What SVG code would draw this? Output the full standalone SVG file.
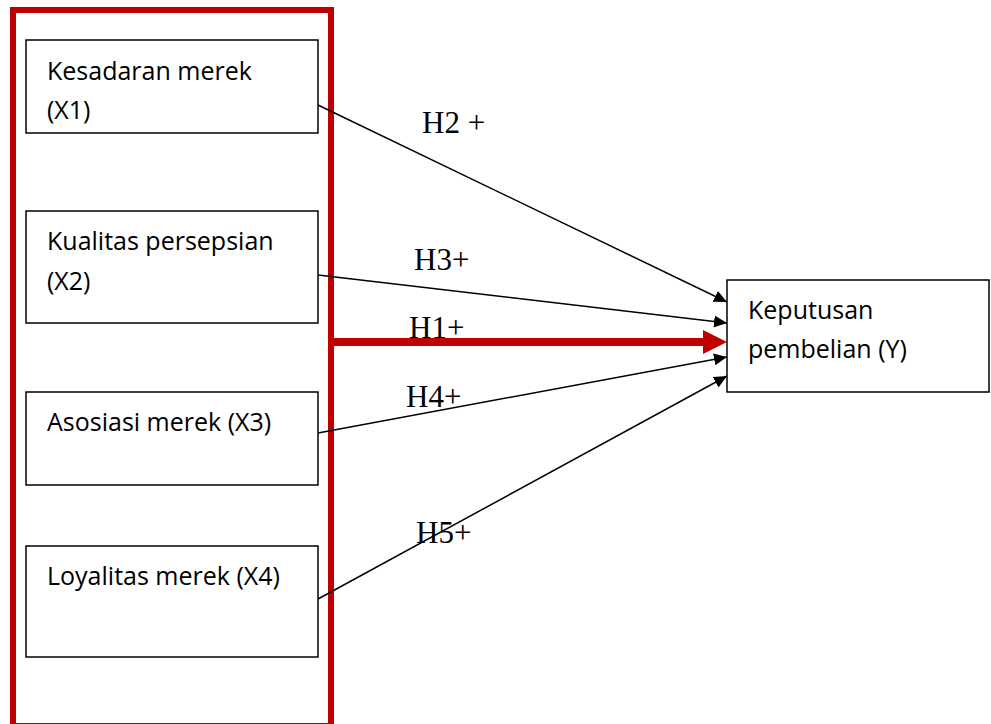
<svg xmlns="http://www.w3.org/2000/svg" width="991" height="724" viewBox="0 0 991 724">
<defs>
<style>
.box{fill:#fff;stroke:#000;stroke-width:1.5}
.lbl{font-family:"Open Sans","Noto Sans",sans-serif;font-size:25px;fill:#000}
.h{font-family:"Liberation Serif","Times New Roman",serif;font-size:31px;fill:#000}
.con{stroke:#000;stroke-width:1.5;fill:none;marker-end:url(#ah)}
</style>
<marker id="ah" markerUnits="userSpaceOnUse" markerWidth="13" markerHeight="12" refX="13" refY="6" orient="auto" viewBox="0 0 13 12">
<path d="M0,0 L13,6 L0,12 z" fill="#000"/>
</marker>
<marker id="rh" markerUnits="userSpaceOnUse" markerWidth="24" markerHeight="24" refX="2" refY="12" orient="auto" viewBox="0 0 24 24">
<path d="M0,0 L24,12 L0,24 z" fill="#C00000"/>
</marker>
</defs>
<rect width="991" height="724" fill="#fff"/>
<g id="frame">
<rect x="13" y="10" width="318" height="716" fill="none" stroke="#C00000" stroke-width="6"/>
</g>
<g id="x1">
<rect class="box" x="26" y="40" width="292" height="93"/>
<text class="lbl" x="47" y="80">Kesadaran merek</text>
<text class="lbl" x="47" y="119">(X1)</text>
</g>
<g id="x2">
<rect class="box" x="26" y="211" width="292" height="112"/>
<text class="lbl" x="47" y="250">Kualitas persepsian</text>
<text class="lbl" x="47" y="290">(X2)</text>
</g>
<g id="x3">
<rect class="box" x="26" y="392" width="292" height="93"/>
<text class="lbl" x="47" y="431">Asosiasi merek (X3)</text>
</g>
<g id="x4">
<rect class="box" x="26" y="546" width="292" height="111"/>
<text class="lbl" x="47" y="585">Loyalitas merek (X4)</text>
</g>
<g id="y">
<rect class="box" x="727" y="280" width="262" height="112"/>
<text class="lbl" x="748" y="319">Keputusan</text>
<text class="lbl" x="748" y="358">pembelian (Y)</text>
</g>
<g id="connectors">
<line class="con" x1="318" y1="105" x2="727" y2="302"/>
<line class="con" x1="318" y1="275" x2="727" y2="323"/>
<line class="con" x1="318" y1="433" x2="727" y2="357"/>
<line class="con" x1="318" y1="599" x2="727" y2="376"/>
<line x1="331" y1="342" x2="705" y2="342" stroke="#C00000" stroke-width="8" marker-end="url(#rh)"/>
</g>
<g id="labels">
<text class="h" x="422" y="133">H2 +</text>
<text class="h" x="414" y="270">H3+</text>
<text class="h" x="409" y="338">H1+</text>
<text class="h" x="406" y="407">H4+</text>
<text class="h" x="416" y="543">H5+</text>
</g>
</svg>
